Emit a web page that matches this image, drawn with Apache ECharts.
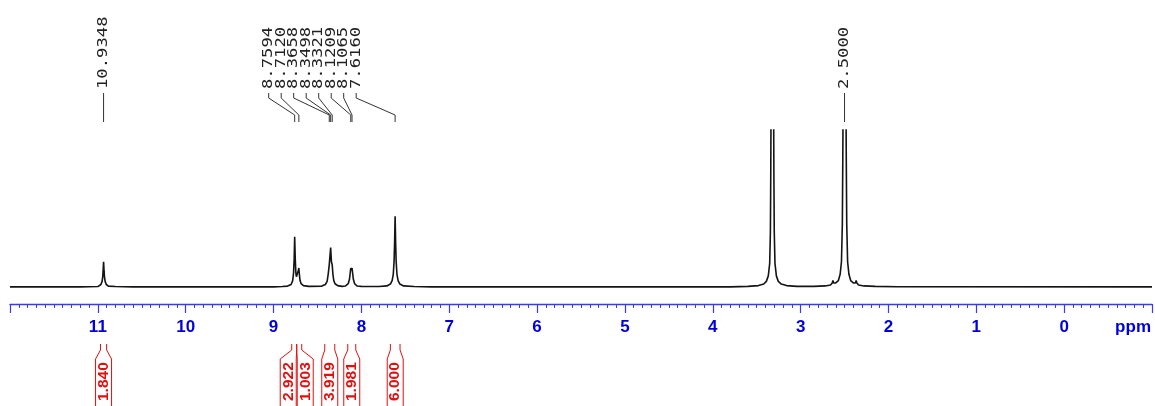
<!DOCTYPE html>
<html>
<head>
<meta charset="utf-8">
<title>1H NMR spectrum</title>
<script src="https://cdn.jsdelivr.net/npm/echarts@6/dist/echarts.min.js"></script>
<style>
  html, body { margin: 0; padding: 0; background: #ffffff; }
  #chart { width: 1155px; height: 406px; }
</style>
</head>
<body>
<div id="chart"></div>
<script>
// Spectrum trace: [chemical shift (ppm), intensity]; 100 = full vertical scale
const spectrumTrace = [
  [12.00, 0.0], [11.20, 0.0], [11.00, 0.2], [10.99, 0.5], [10.965, 1.5], [10.952, 3.5],
  [10.945, 6], [10.940, 10], [10.9348, 16], [10.929, 10], [10.924, 6], [10.917, 3.5],
  [10.904, 1.5], [10.88, 0.5], [10.80, 0.2], [10.60, 0.0],
  [9.00, 0.0], [8.90, 0.2], [8.84, 0.5], [8.80, 1.5], [8.782, 4], [8.772, 9],
  [8.765, 18], [8.7594, 32], [8.753, 18], [8.746, 9], [8.740, 6.5], [8.733, 5.5],
  [8.725, 7.5], [8.718, 10.5], [8.7120, 12], [8.706, 8], [8.698, 4], [8.686, 2],
  [8.66, 0.8], [8.60, 0.3],
  [8.45, 0.5], [8.41, 1.5], [8.39, 3.5], [8.378, 8], [8.370, 12], [8.3658, 14],
  [8.358, 14], [8.3498, 25], [8.341, 16], [8.3321, 14], [8.324, 8], [8.314, 4],
  [8.30, 2], [8.27, 0.8], [8.22, 0.3],
  [8.18, 0.6], [8.15, 2], [8.135, 5], [8.127, 9], [8.1209, 12], [8.114, 10.5],
  [8.1065, 12], [8.100, 9], [8.092, 5], [8.077, 2], [8.05, 0.6], [8.00, 0.3],
  [7.80, 0.2], [7.71, 0.6], [7.67, 1.8], [7.65, 4], [7.637, 8], [7.628, 16],
  [7.622, 28], [7.6160, 45], [7.610, 28], [7.604, 16], [7.595, 8], [7.582, 4],
  [7.562, 1.8], [7.52, 0.6], [7.40, 0.2], [7.20, 0.0],
  [3.80, 0.0], [3.60, 0.3], [3.48, 0.8], [3.42, 1.8], [3.39, 3.5], [3.368, 7],
  [3.352, 15], [3.344, 35], [3.340, 70], [3.337, 110], [3.322, 500], [3.307, 110],
  [3.304, 70], [3.300, 35], [3.292, 15], [3.276, 7], [3.254, 3.5], [3.22, 1.8],
  [3.16, 0.8], [3.04, 0.3],
  [2.85, 0.3], [2.72, 0.6], [2.66, 1.2], [2.64, 2.5], [2.632, 4], [2.624, 2.5],
  [2.60, 2.5], [2.57, 4], [2.55, 8], [2.535, 16], [2.525, 40], [2.520, 80],
  [2.517, 110], [2.500, 500], [2.483, 110], [2.480, 80], [2.475, 40], [2.465, 16],
  [2.45, 8], [2.43, 4], [2.40, 2.5], [2.376, 2.5], [2.368, 4], [2.360, 2.5],
  [2.34, 1.2], [2.28, 0.6], [2.15, 0.3], [1.90, 0.1], [-1.00, 0.0]
];

// Picked peaks (ppm)
const peakShifts = [10.9348, 8.7594, 8.7120, 8.3658, 8.3498, 8.3321, 8.1209, 8.1065, 7.6160, 2.5000];

// Integration regions (ppm) and their integrals
const integralFrom = [10.97, 8.793, 8.736, 8.417, 8.155, 7.670];
const integralTo = [10.90, 8.736, 8.679, 8.303, 8.064, 7.560];
const integralValues = [1.840, 2.922, 1.003, 3.919, 1.981, 6.000];

// Labelled major ticks of the shift axis
const labelledTicks = [11, 10, 9, 8, 7, 6, 5, 4, 3, 2, 1, 0];

// ---- layout constants ----
const AXIS_BLUE = '#3a3af0';
const LABEL_BLUE = '#0000dd';
const INTEGRAL_RED = '#e01010';
const LABEL_PITCH = 12.5;        // spacing of crowded peak labels (px)
const LABEL_CLEARANCE = 48;      // label groups closer than this are merged (px)
const LABEL_GROUP_SHIFT = -23;   // crowded peak labels are nudged left (px)
const BOX_WIDTH = 17;            // integral label box width (px)

// Spread overlapping label columns: members of a crowded group are set
// side by side at a fixed pitch, centred on the mean of their anchors.
function spreadColumns(anchors, pitch, clearance) {
  const groups = [];
  anchors.forEach(function (a, i) {
    groups.push({ sum: a, n: 1, idx: [i] });
    while (groups.length > 1) {
      const b = groups[groups.length - 1];
      const g = groups[groups.length - 2];
      const gRight = g.sum / g.n + (g.n - 1) / 2 * pitch;
      const bLeft = b.sum / b.n - (b.n - 1) / 2 * pitch;
      if (bLeft - gRight >= clearance) break;
      groups.pop();
      g.sum += b.sum; g.n += b.n; g.idx = g.idx.concat(b.idx);
    }
  });
  const out = [];
  groups.forEach(function (g) {
    const c = g.sum / g.n;
    g.idx.forEach(function (k, j) {
      out[k] = { x: c + (j - (g.n - 1) / 2) * pitch, n: g.n };
    });
  });
  return out;
}

const chart = echarts.init(document.getElementById('chart'), null, { renderer: 'canvas' });

const option = {
  animation: false,
  backgroundColor: '#ffffff',
  grid: { left: 10, right: 3, top: 130, bottom: 116, containLabel: false },
  xAxis: {
    type: 'value',
    min: -1,
    max: 12,
    interval: 1,
    inverse: true,
    offset: 14,
    axisLine: { show: true, onZero: false, lineStyle: { color: AXIS_BLUE, width: 1.4 } },
    axisTick: { show: true, inside: false, length: 9, lineStyle: { color: AXIS_BLUE, width: 1.2 } },
    minorTick: { show: true, splitNumber: 10, length: 4, lineStyle: { color: AXIS_BLUE, width: 1 } },
    splitLine: { show: false },
    minorSplitLine: { show: false },
    axisLabel: {
      color: LABEL_BLUE,
      fontFamily: 'Liberation Sans',
      fontWeight: 'bold',
      fontSize: 17,
      margin: 15,
      showMinLabel: true,
      showMaxLabel: true,
      formatter: function (v) {
        return labelledTicks.indexOf(v) >= 0 ? String(v) : '';
      }
    }
  },
  yAxis: {
    type: 'value',
    min: -2,
    max: 100,
    show: false,
    splitLine: { show: false }
  },
  graphic: [
    {
      type: 'text',
      right: 4,
      top: 319,
      style: { text: 'ppm', fill: LABEL_BLUE, font: 'bold 17px "Liberation Sans"' }
    }
  ],
  series: [
    {
      name: 'spectrum',
      type: 'line',
      data: spectrumTrace,
      showSymbol: false,
      symbol: 'none',
      clip: true,
      smooth: false,
      lineStyle: { color: '#141414', width: 1.6 },
      silent: true,
      z: 3
    },
    {
      name: 'peak labels',
      type: 'custom',
      coordinateSystem: 'cartesian2d',
      clip: false,
      silent: true,
      data: peakShifts.map(function (p) { return [p, 0]; }),
      encode: { x: 0, y: 1 },
      renderItem: function (params, api) {
        const xs = peakShifts.map(function (p) { return api.coord([p, 0])[0]; });
        const cols = spreadColumns(xs, LABEL_PITCH, LABEL_CLEARANCE);
        const i = params.dataIndex;
        const px = xs[i];
        let cx = cols[i].x;
        if (cols[i].n > 1) cx += LABEL_GROUP_SHIFT;
        return {
          type: 'group',
          children: [
            {
              type: 'polyline',
              shape: { points: [[cx, 93], [cx, 98], [px, 115], [px, 122]] },
              style: { stroke: '#333333', lineWidth: 1, fill: null }
            },
            {
              // condensed-height monospace label, stretched along its baseline
              type: 'text',
              x: cx,
              y: 89,
              rotation: Math.PI / 2,
              scaleX: 1.23,
              style: {
                text: peakShifts[i].toFixed(4),
                fill: '#222222',
                font: '14px "DejaVu Sans Mono"',
                align: 'left',
                verticalAlign: 'middle'
              }
            }
          ]
        };
      },
      z: 4
    },
    {
      name: 'integrals',
      type: 'custom',
      coordinateSystem: 'cartesian2d',
      clip: false,
      silent: true,
      data: integralValues.map(function (v, i) { return [(integralFrom[i] + integralTo[i]) / 2, 0, v]; }),
      encode: { x: 0, y: 1 },
      renderItem: function (params, api) {
        const i = params.dataIndex;
        const lefts = integralFrom.map(function (p) { return api.coord([p, 0])[0]; });
        const rights = integralTo.map(function (p) { return api.coord([p, 0])[0]; });
        const centres = lefts.map(function (l, k) { return (l + rights[k]) / 2; });
        const boxes = spreadColumns(centres, BOX_WIDTH, BOX_WIDTH);
        const bc = boxes[i].x;
        const bl = bc - BOX_WIDTH / 2 + 0.5;
        const br = bc + BOX_WIDTH / 2 - 0.5;
        const xl = lefts[i];
        const xr = rights[i];
        const lineStyle = { stroke: INTEGRAL_RED, lineWidth: 1, fill: null };
        return {
          type: 'group',
          children: [
            { type: 'polyline', shape: { points: [[xl, 344], [xl, 350], [bl, 359], [bl, 410]] }, style: lineStyle },
            { type: 'polyline', shape: { points: [[xr, 344], [xr, 350], [br, 359], [br, 410]] }, style: lineStyle },
            {
              type: 'text',
              x: bc,
              y: 401,
              rotation: Math.PI / 2,
              style: {
                text: integralValues[i].toFixed(3),
                fill: INTEGRAL_RED,
                font: 'bold 15.5px "Liberation Sans"',
                align: 'left',
                verticalAlign: 'middle'
              }
            }
          ]
        };
      },
      z: 4
    }
  ]
};

chart.setOption(option);
</script>
</body>
</html>
